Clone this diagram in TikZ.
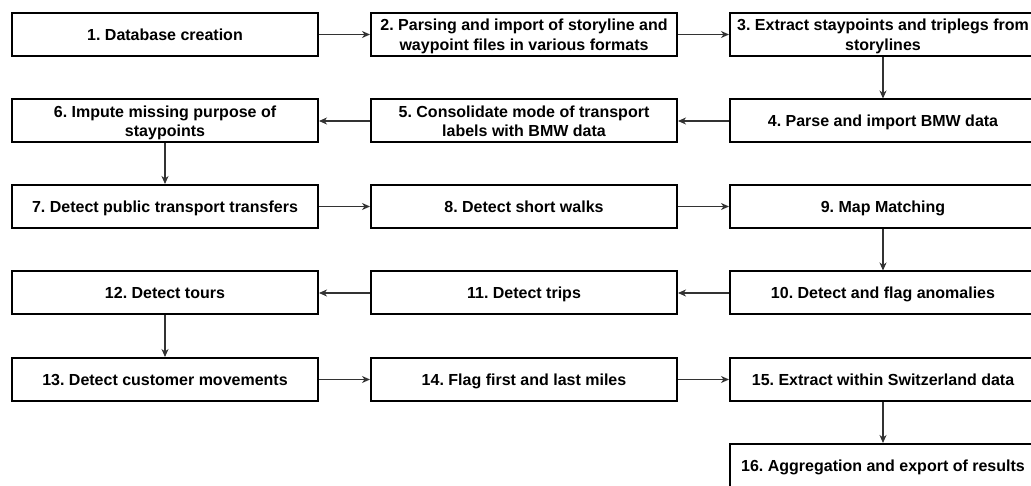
\documentclass[tikz,border=0pt]{standalone}
\usepackage{fontspec}
\setmainfont{Liberation Sans}
\usetikzlibrary{arrows.meta}
\frenchspacing
% uniform line box for every text line inside a step box
\newcommand\ls{\rule[-3.6pt]{0pt}{19.2pt}}
\begin{document}
\begin{tikzpicture}[x=1pt,y=-1pt,
  stepbox/.style={draw=black, line width=2pt, fill=white,
    minimum width=306pt, minimum height=43pt, inner sep=0pt,
    align=center, font=\fontsize{16}{19.2}\selectfont\bfseries},
  flow/.style={draw=black!80, line width=1.1pt,
    -{Stealth[length=8pt,width=7pt,inset=2.5pt]}}]
\useasboundingbox (0,0) rectangle (1031,486);
\begin{scope}
\clip (0,0) rectangle (1031,486);
% column centres 165, 524, 883; row centres every ~86.3
\node[stepbox] (s1)  at (165,34.5)  {\ls 1. Database creation};
\node[stepbox] (s2)  at (524,34.5)  {\ls 2. Parsing and import of storyline and\\\ls waypoint files in various formats};
\node[stepbox] (s3)  at (883,34.5)  {\ls 3. Extract staypoints and triplegs from\\\ls storylines};
\node[stepbox] (s4)  at (883,121)   {\ls 4. Parse and import BMW data};
\node[stepbox] (s5)  at (524,121)   {\ls 5. Consolidate mode of transport\\\ls labels with BMW data};
\node[stepbox] (s6)  at (165,121)   {\ls 6. Impute missing purpose of\\\ls staypoints};
\node[stepbox] (s7)  at (165,206.5) {\ls 7. Detect public transport transfers};
\node[stepbox] (s8)  at (524,206.5) {\ls 8. Detect short walks};
\node[stepbox] (s9)  at (883,206.5) {\ls 9. Map Matching};
\node[stepbox] (s10) at (883,293)   {\ls 10. Detect and flag anomalies};
\node[stepbox] (s11) at (524,293)   {\ls 11. Detect trips};
\node[stepbox] (s12) at (165,293)   {\ls 12. Detect tours};
\node[stepbox] (s13) at (165,379.5) {\ls 13. Detect customer movements};
\node[stepbox] (s14) at (524,379.5) {\ls 14. Flag first and last miles};
\node[stepbox] (s15) at (883,379.5) {\ls 15. Extract within Switzerland data};
\node[stepbox] (s16) at (883,465.5) {\ls 16. Aggregation and export of results};
% connectors, snaking through the grid
\draw[flow] (s1) -- (s2);
\draw[flow] (s2) -- (s3);
\draw[flow] (s3) -- (s4);
\draw[flow] (s4) -- (s5);
\draw[flow] (s5) -- (s6);
\draw[flow] (s6) -- (s7);
\draw[flow] (s7) -- (s8);
\draw[flow] (s8) -- (s9);
\draw[flow] (s9) -- (s10);
\draw[flow] (s10) -- (s11);
\draw[flow] (s11) -- (s12);
\draw[flow] (s12) -- (s13);
\draw[flow] (s13) -- (s14);
\draw[flow] (s14) -- (s15);
\draw[flow] (s15) -- (s16);
\end{scope}
\end{tikzpicture}
\end{document}
